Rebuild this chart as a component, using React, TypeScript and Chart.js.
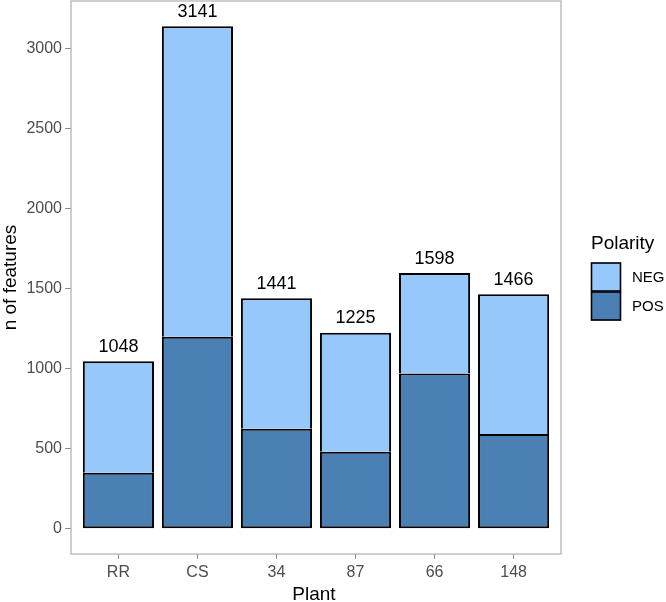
import React, { useEffect, useRef } from "react";
import { Chart, registerables } from "chart.js";

Chart.register(...registerables);

const plants = ["RR", "CS", "34", "87", "66", "148"];
const posValues = [350, 1200, 625, 482, 970, 593];
const negValues = [698, 1941, 816, 743, 628, 873];
const yTicks = [0, 500, 1000, 1500, 2000, 2500, 3000];
const seriesNames = ["NEG", "POS"];
const legendTitle = "Polarity";
const xTitle = "Plant";
const yTitle = "n of features";
const negColor = "#96c8fb";
const posColor = "#4b80b5";
const FONT = "'Liberation Sans', Arial, sans-serif";

const framePlugin = {
  id: "frame",
  afterDatasetsDraw(chart: any) {
    const { ctx, chartArea } = chart;
    ctx.save();
    ctx.strokeStyle = "#b0b0b0";
    ctx.lineWidth = 1.2;
    ctx.strokeRect(chartArea.left, chartArea.top, chartArea.right - chartArea.left, chartArea.bottom - chartArea.top);
    const xs = chart.scales.x;
    const ys = chart.scales.y;
    ctx.fillStyle = "#000";
    ctx.font = `18px ${FONT}`;
    ctx.textAlign = "center";
    ctx.textBaseline = "middle";
    plants.forEach((_, i) => {
      const total = posValues[i] + negValues[i];
      ctx.fillText(String(total), xs.getPixelForValue(i), ys.getPixelForValue(total) - 14.5);
    });
    // axis titles
    ctx.font = `19px ${FONT}`;
    ctx.textBaseline = "alphabetic";
    ctx.fillText(xTitle, (chartArea.left + chartArea.right) / 2 - 2, 600);
    ctx.save();
    ctx.translate(16, (chartArea.top + chartArea.bottom) / 2);
    ctx.rotate(-Math.PI / 2);
    ctx.fillText(yTitle, 0, 0);
    ctx.restore();
    // legend
    const lx = 591;
    ctx.textAlign = "left";
    ctx.textBaseline = "middle";
    ctx.font = `19px ${FONT}`;
    ctx.fillText(legendTitle, lx, 244);
    const boxes = [
      { name: seriesNames[0], color: negColor, y: 262.5 },
      { name: seriesNames[1], color: posColor, y: 291.5 },
    ];
    boxes.forEach((b) => {
      ctx.fillStyle = b.color;
      ctx.fillRect(lx, b.y, 30, 29);
      ctx.strokeStyle = "#000";
      ctx.lineWidth = 1.6;
      ctx.strokeRect(lx + 0.5, b.y + 0.5, 29, 28);
      ctx.fillStyle = "#000";
      ctx.font = `15px ${FONT}`;
      ctx.fillText(b.name, 632, b.y + 15);
    });
    ctx.restore();
  },
};

export default function App() {
  const ref = useRef<HTMLCanvasElement>(null);
  useEffect(() => {
    const chart = new Chart(ref.current!, {
      type: "bar",
      data: {
        datasets: [
          {
            label: seriesNames[1],
            data: posValues.map((v, i) => ({ x: i, y: v })),
            backgroundColor: posColor,
            borderColor: "#000",
            borderWidth: 2,
            borderSkipped: false,
          },
          {
            label: seriesNames[0],
            data: negValues.map((v, i) => ({ x: i, y: v })),
            backgroundColor: negColor,
            borderColor: "#000",
            borderWidth: { top: 2, left: 2, right: 2, bottom: 0 },
            borderSkipped: false,
          },
        ],
      },
      options: {
        animation: false,
        responsive: false,
        maintainAspectRatio: false,
        layout: { padding: { left: 0, right: 105, top: 1, bottom: 0 } },
        datasets: { bar: { barPercentage: 0.9, categoryPercentage: 1 } },
        plugins: { legend: { display: false }, tooltip: { enabled: false } },
        scales: {
          x: {
            type: "linear",
            stacked: true,
            min: -0.6,
            max: 5.6,
            offset: false,
            border: { display: false },
            grid: { offset: false, drawOnChartArea: false, drawTicks: true, tickLength: 5, color: "#8c8c8c" },
            ticks: {
              autoSkip: false,
              maxRotation: 0,
              padding: 4,
              color: "#4d4d4d",
              font: { family: FONT, size: 16 },
              callback: (v: any) => plants[Number(v)] ?? "",
            },
            afterBuildTicks: (s: any) => { s.ticks = plants.map((_, i) => ({ value: i })); },
            afterFit: (s: any) => {
              s.height = 48;
              s.paddingLeft = 0; s.paddingRight = 0; s.paddingTop = 0; s.paddingBottom = 0;
            },
          },
          y: {
            stacked: true,
            min: -157,
            max: 3298,
            border: { display: false },
            grid: { drawOnChartArea: false, drawTicks: true, tickLength: 6, color: "#8c8c8c" },
            ticks: {
              padding: 3,
              color: "#4d4d4d",
              font: { family: FONT, size: 16 },
              callback: (v: any) => String(v),
            },
            afterBuildTicks: (s: any) => { s.ticks = yTicks.map((v) => ({ value: v })); },
            afterFit: (s: any) => {
              s.width = 71;
              s.paddingLeft = 0; s.paddingRight = 0; s.paddingTop = 0; s.paddingBottom = 0;
            },
          },
        },
      },
      plugins: [framePlugin],
    });
    return () => chart.destroy();
  }, []);
  return (
    <div style={{ position: "absolute", left: 0, top: 0, width: 666, height: 602, background: "#fff" }}>
      <canvas ref={ref} width={666} height={602} />
    </div>
  );
}
